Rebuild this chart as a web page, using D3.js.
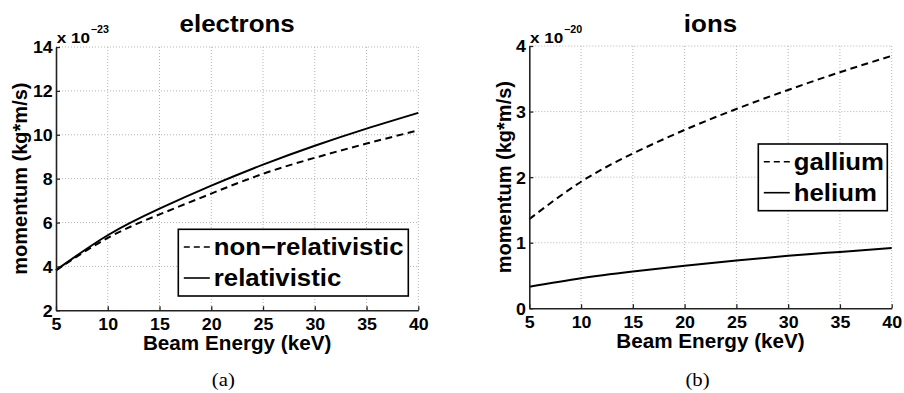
<!DOCTYPE html>
<html>
<head>
<meta charset="utf-8">
<script src="https://cdn.jsdelivr.net/npm/d3@7"></script>
<style>
  html, body { margin: 0; padding: 0; background: #fff; }
  svg { display: block; }
  text { font-family: "Liberation Sans", Arial, Helvetica, sans-serif; font-weight: bold; fill: #000; }
  .caption { font-family: "Liberation Serif", "DejaVu Serif", serif; font-weight: normal; }
</style>
</head>
<body>
<svg id="fig" width="904" height="393"></svg>
<script>
// Beam energy samples (keV)
const energy = [5, 10, 15, 20, 25, 30, 35, 40];

// Electron momentum, units of 1e-23 kg*m/s
const electronNonRelativistic = [3.82, 5.30, 6.37, 7.32, 8.22, 8.95, 9.60, 10.20];
const electronRelativistic    = [3.83, 5.42, 6.63, 7.68, 8.64, 9.50, 10.28, 11.00];

// Ion momentum, units of 1e-20 kg*m/s
const galliumMomentum = [1.36, 1.93, 2.36, 2.72, 3.04, 3.33, 3.60, 3.85];
const heliumMomentum  = [0.33, 0.46, 0.56, 0.65, 0.73, 0.80, 0.86, 0.92];

// Tick values
const energyTicks = [5, 10, 15, 20, 25, 30, 35, 40];
const electronTicks = [2, 4, 6, 8, 10, 12, 14];
const ionTicks = [0, 1, 2, 3, 4];

const svg = d3.select("#fig");
svg.append("rect").attr("width", 904).attr("height", 393).attr("fill", "#fff");

// widen bold labels slightly, as the exported figure renders them
function widen(sel, k) {
  sel.each(function () {
    const len = this.getComputedTextLength();
    d3.select(this).attr("textLength", len * k).attr("lengthAdjust", "spacingAndGlyphs");
  });
  return sel;
}

function panel(cfg) {
  const x = d3.scaleLinear().domain([5, 40]).range([cfg.left, cfg.right]);
  const y = d3.scaleLinear().domain(cfg.yDomain).range([cfg.bottom, cfg.top]);
  const g = svg.append("g");

  // dotted grid
  const grid = g.append("g").attr("stroke", "#b4b4b4").attr("stroke-width", 1)
    .attr("stroke-dasharray", "1,2");
  grid.selectAll("line.v").data(energyTicks.slice(1)).join("line")
    .attr("x1", d => x(d)).attr("x2", d => x(d))
    .attr("y1", cfg.top).attr("y2", cfg.bottom);
  grid.selectAll("line.h").data(cfg.yTicks.slice(1)).join("line")
    .attr("x1", cfg.left).attr("x2", cfg.right)
    .attr("y1", d => y(d)).attr("y2", d => y(d));

  // curves
  const line = d3.line().x((d, i) => x(energy[i])).y(d => y(d)).curve(d3.curveNatural);
  cfg.series.forEach(s => {
    g.append("path").attr("d", line(s.values))
      .attr("fill", "none").attr("stroke", "#000").attr("stroke-width", 2)
      .attr("stroke-dasharray", s.dashed ? "7,4.5" : null);
  });

  // axes (inward ticks, MATLAB style)
  const fmt = d3.format("d");
  const xAxis = d3.axisBottom(x).tickValues(energyTicks).tickFormat(fmt)
    .tickSizeInner(-4).tickSizeOuter(0);
  const yAxis = d3.axisLeft(y).tickValues(cfg.yTicks).tickFormat(fmt)
    .tickSizeInner(-4).tickSizeOuter(0);
  const gx = g.append("g").attr("transform", `translate(0,${cfg.bottom})`).call(xAxis);
  const gy = g.append("g").attr("transform", `translate(${cfg.left},0)`).call(yAxis);
  [gx, gy].forEach(a => {
    a.select(".domain").attr("stroke", "#222").attr("stroke-width", 1.6);
    a.selectAll(".tick line").attr("stroke", "#222").attr("stroke-width", 1.3);
    a.selectAll(".tick text").style("font-family", "'Liberation Sans', Arial, sans-serif")
      .style("font-weight", "bold").style("font-size", "16.5px").attr("fill", "#000");
  });
  gx.selectAll(".tick text").attr("y", 7.5).attr("dy", "0.71em");
  gy.selectAll(".tick text").attr("x", -3.3).attr("dy", "0.36em");
  widen(gx.selectAll(".tick text"), 1.08);
  widen(gy.selectAll(".tick text"), 1.08);

  // exponent marker
  widen(g.append("text").attr("x", cfg.left + 0.7).attr("y", 42.7)
    .style("font-size", "14.5px").text("x 10"), 1.18);
  widen(g.append("text").attr("x", cfg.left + 34.7).attr("y", 32.7)
    .style("font-size", "10.5px").text(cfg.exponent), 1.02);

  // title
  widen(g.append("text").attr("x", (cfg.left + cfg.right) / 2).attr("y", 31.7)
    .attr("text-anchor", "middle").style("font-size", "24px").text(cfg.title), 1.08);

  // axis labels
  widen(g.append("text").attr("x", (cfg.left + cfg.right) / 2).attr("y", cfg.bottom + 39.5)
    .attr("text-anchor", "middle").style("font-size", "19.5px").text("Beam Energy (keV)"), 1.06);
  g.append("text")
    .attr("transform", `translate(${cfg.ylabelX},${(cfg.top + cfg.bottom) / 2}) rotate(-90)`)
    .attr("text-anchor", "middle").style("font-size", "20px").text("momentum (kg*m/s)");

  // legend
  const L = cfg.legend;
  const lg = g.append("g").attr("transform", `translate(${L.x},${L.y})`);
  lg.append("rect").attr("width", L.w).attr("height", 66.7)
    .attr("fill", "#fff").attr("stroke", "#000").attr("stroke-width", 1.6);
  cfg.series.forEach((s, i) => {
    const ly = 17.7 + i * 31;
    lg.append("line").attr("x1", 5.5).attr("x2", 31.5).attr("y1", ly).attr("y2", ly)
      .attr("stroke", "#000").attr("stroke-width", 1.6)
      .attr("stroke-dasharray", s.dashed ? "6,4" : null);
    widen(lg.append("text").attr("x", 35.5).attr("y", ly + 8.3)
      .style("font-size", "23px").text(s.name), 1.12);
  });

  // sub-figure caption
  widen(svg.append("text").attr("class", "caption").attr("x", cfg.captionX).attr("y", 385.5)
    .attr("text-anchor", "middle").style("font-size", "18px").text(cfg.caption), 1.15);
}

panel({
  title: "electrons", exponent: "\u221223",
  left: 56, right: 418.3, top: 47, bottom: 310.3,
  yDomain: [2, 14], yTicks: electronTicks, ylabelX: 27,
  series: [
    { name: "non\u2212relativistic", values: electronNonRelativistic, dashed: true },
    { name: "relativistic", values: electronRelativistic, dashed: false }
  ],
  legend: { x: 178.3, y: 229.3, w: 230 },
  caption: "(a)", captionX: 223.3
});

panel({
  title: "ions", exponent: "\u221220",
  left: 529.3, right: 891.7, top: 46, bottom: 308.3,
  yDomain: [0, 4], yTicks: ionTicks, ylabelX: 511,
  series: [
    { name: "gallium", values: galliumMomentum, dashed: true },
    { name: "helium", values: heliumMomentum, dashed: false }
  ],
  legend: { x: 758.3, y: 144, w: 129 },
  caption: "(b)", captionX: 697.5
});
</script>
</body>
</html>
